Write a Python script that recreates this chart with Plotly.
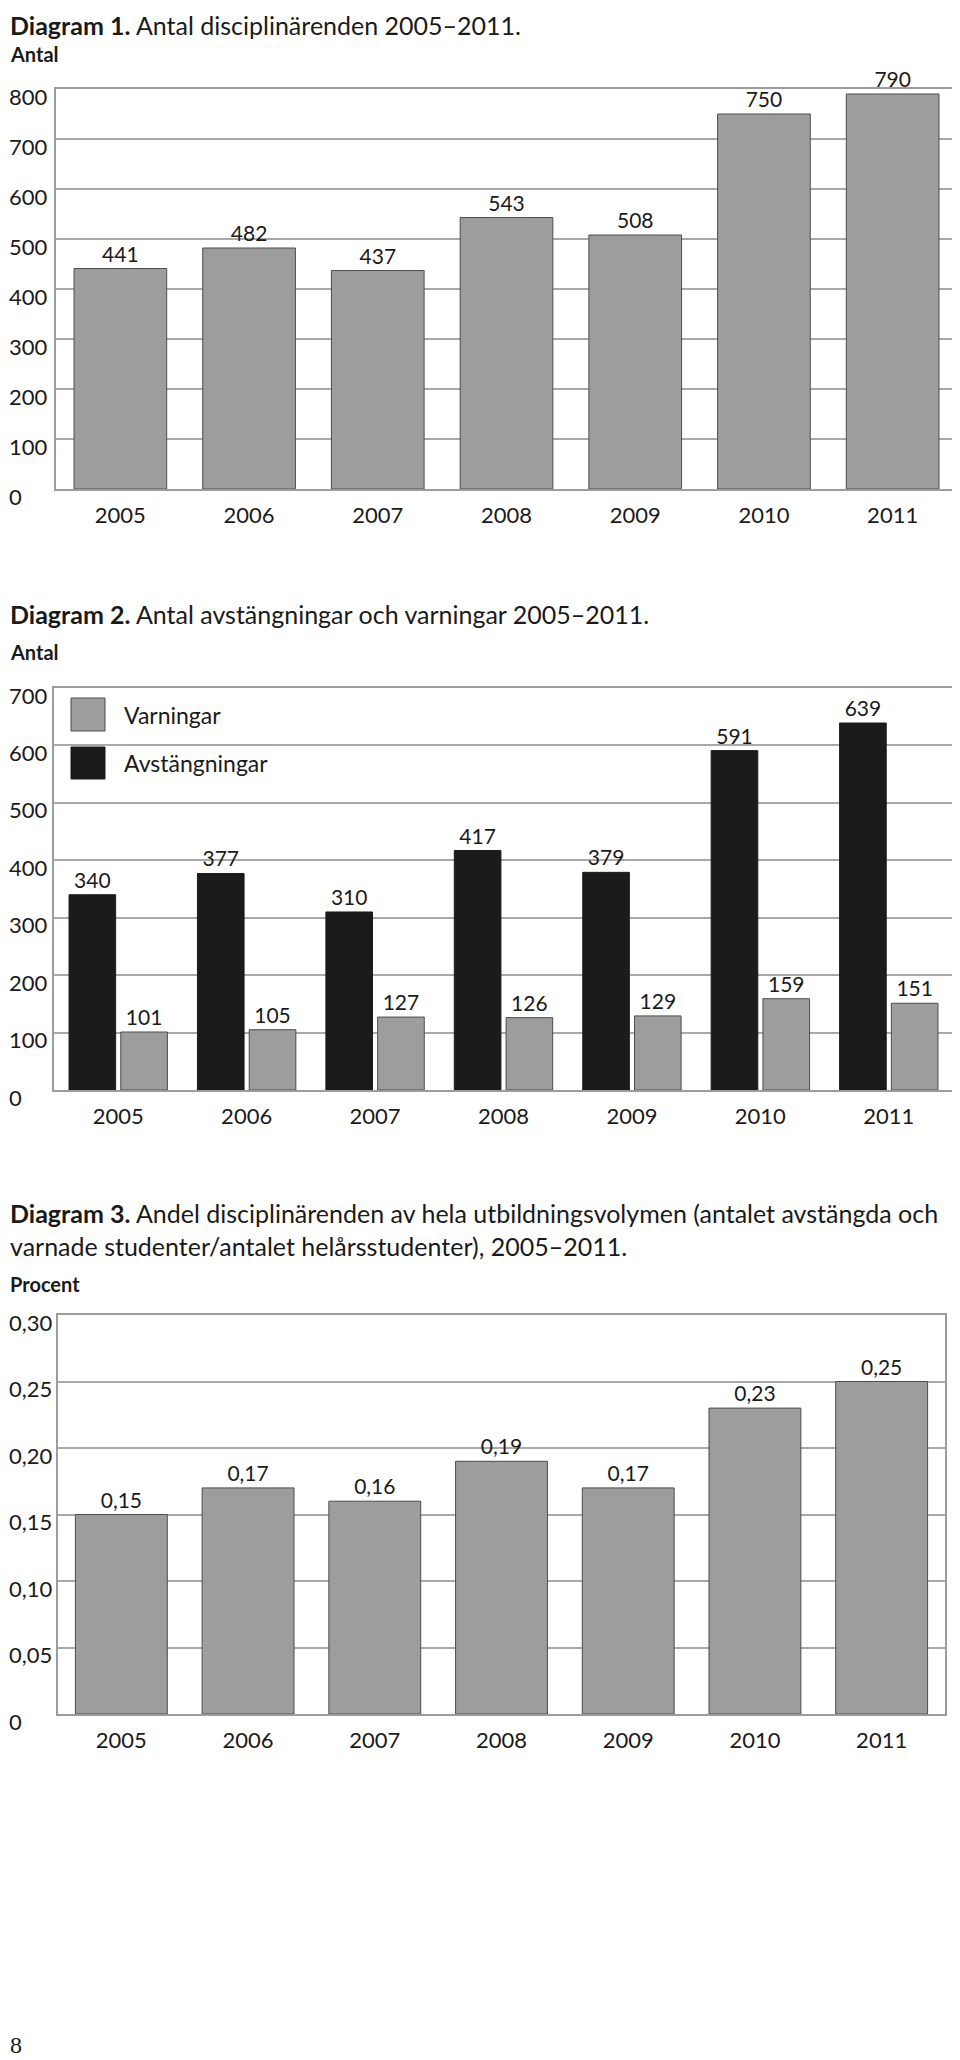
import plotly.graph_objects as go

# ------------------------------------------
# Data
# ------------------------------------------
years = ["2005", "2006", "2007", "2008", "2009", "2010", "2011"]

disciplinarenden = [441, 482, 437, 543, 508, 750, 790]

varningar = [101, 105, 127, 126, 129, 159, 151]
avstangningar = [340, 377, 310, 417, 379, 591, 639]

andel = [0.15, 0.17, 0.16, 0.19, 0.17, 0.23, 0.25]

ticks1 = [0, 100, 200, 300, 400, 500, 600, 700, 800]
ticks2 = [0, 100, 200, 300, 400, 500, 600, 700]
ticks3 = [0, 0.05, 0.10, 0.15, 0.20, 0.25, 0.30]
ticks3_text = ["0", "0,05", "0,10", "0,15", "0,20", "0,25", "0,30"]

# ------------------------------------------
# Style
# ------------------------------------------
PAGE_W, PAGE_H = 960, 2060
BODY = 8  # default page margin of the html body
W, H = PAGE_W - BODY, PAGE_H - BODY
FONT = "Lato"
INK = "#1a1a1a"
GRAY = "#9d9d9d"
BLACK = "#1b1b1b"
EDGE = "#4d4d4d"
GRID = "#a9a9a9"
FRAME = "#9c9c9c"


# positions below are given in page pixels
def px_x(p):
    return (p - BODY) / W


def px_y(p):
    return 1 - (p - BODY) / H


fig = go.Figure()

# Diagram 1
fig.add_trace(go.Bar(
    x=years, y=disciplinarenden, xaxis="x", yaxis="y",
    width=0.72,
    marker=dict(color=GRAY, line=dict(color=EDGE, width=1)),
    text=disciplinarenden, textposition="outside",
    textfont=dict(size=21, color=INK, family=FONT),
    cliponaxis=False, showlegend=False,
))

# Diagram 2
fig.add_trace(go.Bar(
    x=years, y=avstangningar, xaxis="x2", yaxis="y2", name="Avstängningar",
    width=0.363, offset=-0.383,
    marker=dict(color=BLACK, line=dict(color=BLACK, width=1)),
    text=avstangningar, textposition="outside",
    textfont=dict(size=21, color=INK, family=FONT),
    cliponaxis=False, showlegend=False,
))
fig.add_trace(go.Bar(
    x=years, y=varningar, xaxis="x2", yaxis="y2", name="Varningar",
    width=0.363, offset=0.02,
    marker=dict(color=GRAY, line=dict(color=EDGE, width=1)),
    text=varningar, textposition="outside",
    textfont=dict(size=21, color=INK, family=FONT),
    cliponaxis=False, showlegend=False,
))

# Diagram 3
fig.add_trace(go.Bar(
    x=years, y=andel, xaxis="x3", yaxis="y3",
    width=0.725,
    marker=dict(color=GRAY, line=dict(color=EDGE, width=1)),
    texttemplate="%{y:.2f}", textposition="outside",
    textfont=dict(size=21, color=INK, family=FONT),
    cliponaxis=False, showlegend=False,
))


def xax(left, right):
    return dict(
        domain=[px_x(left), px_x(right)], type="category", range=[-0.5, 6.5],
        showgrid=False, zeroline=False, showline=True, mirror=True,
        linecolor=FRAME, linewidth=1.5, ticks="",
        tickfont=dict(size=22, color=INK, family=FONT), ticklabelstandoff=6,
        fixedrange=True,
    )


def yax(top, bottom, rng, tickvals, anchor):
    return dict(
        domain=[px_y(bottom), px_y(top)], range=rng, anchor=anchor,
        tickvals=tickvals, showticklabels=False, ticks="",
        showgrid=True, gridcolor=GRID, gridwidth=1.5,
        zeroline=False, showline=True, mirror=True,
        linecolor=FRAME, linewidth=1.5, fixedrange=True,
    )


annotations = []


def tick_labels(yref, vals, texts):
    for v, t in zip(vals, texts):
        annotations.append(dict(
            x=px_x(7), xref="paper", xanchor="left",
            y=v, yref=yref, yanchor="middle", yshift=-7,
            text=t, showarrow=False,
            font=dict(size=22, color=INK, family=FONT),
        ))


def label(text, x, y, size, family=FONT, anchor="middle"):
    annotations.append(dict(
        x=px_x(x), xref="paper", xanchor="left",
        y=px_y(y), yref="paper", yanchor=anchor,
        text=text, showarrow=False, align="left",
        font=dict(size=size, color=INK, family=family),
    ))


tick_labels("y", ticks1, [str(v) for v in ticks1])
tick_labels("y2", ticks2, [str(v) for v in ticks2])
tick_labels("y3", ticks3, ticks3_text)

label("<b>Diagram 1.</b> Antal disciplinärenden 2005–2011.", 8, BODY, 25, anchor="top")
label("<b>Antal</b>", 8, 54, 20)
label("<b>Diagram 2.</b> Antal avstängningar och varningar 2005–2011.", 8, 614, 25)
label("<b>Antal</b>", 8, 652, 20)
label("<b>Diagram 3.</b> Andel disciplinärenden av hela utbildningsvolymen (antalet avstängda och"
      "<br>varnade studenter/antalet helårsstudenter), 2005–2011.", 8, 1229, 25)
label("<b>Procent</b>", 8, 1284, 20)

# legend for diagram 2
label("Varningar", 122, 715, 23)
label("Avstängningar", 122, 763, 23)

# page number
annotations.append(dict(
    x=px_x(8), xref="paper", xanchor="left", y=0, yref="paper", yanchor="bottom",
    text="8", showarrow=False, font=dict(size=24, color=INK, family="Liberation Serif"),
))

shapes = [
    dict(type="rect", xref="paper", yref="paper", layer="between",
         x0=px_x(55), x1=px_x(287), y0=px_y(795), y1=px_y(690),
         fillcolor="white", line=dict(width=0)),
    dict(type="rect", xref="paper", yref="paper", layer="above",
         x0=px_x(71), x1=px_x(105), y0=px_y(731), y1=px_y(698),
         fillcolor=GRAY, line=dict(color=EDGE, width=1)),
    dict(type="rect", xref="paper", yref="paper", layer="above",
         x0=px_x(71), x1=px_x(105), y0=px_y(779), y1=px_y(747),
         fillcolor=BLACK, line=dict(color=BLACK, width=1)),
]

fig.update_layout(
    width=W, height=H,
    margin=dict(l=0, r=0, t=0, b=0),
    paper_bgcolor="white", plot_bgcolor="white",
    font=dict(family=FONT, color=INK),
    separators=", ",
    barmode="group",
    showlegend=False,
    xaxis=xax(56, 957),
    yaxis=yax(89, 489, [0, 800], ticks1, "x"),
    xaxis2=xax(54, 953) | dict(anchor="y2"),
    yaxis2=yax(688, 1090, [0, 700], ticks2, "x2"),
    xaxis3=xax(58, 945) | dict(anchor="y3"),
    yaxis3=yax(1315, 1714, [0, 0.30], ticks3, "x3"),
    annotations=annotations,
    shapes=shapes,
)

fig.write_html("out.html")
